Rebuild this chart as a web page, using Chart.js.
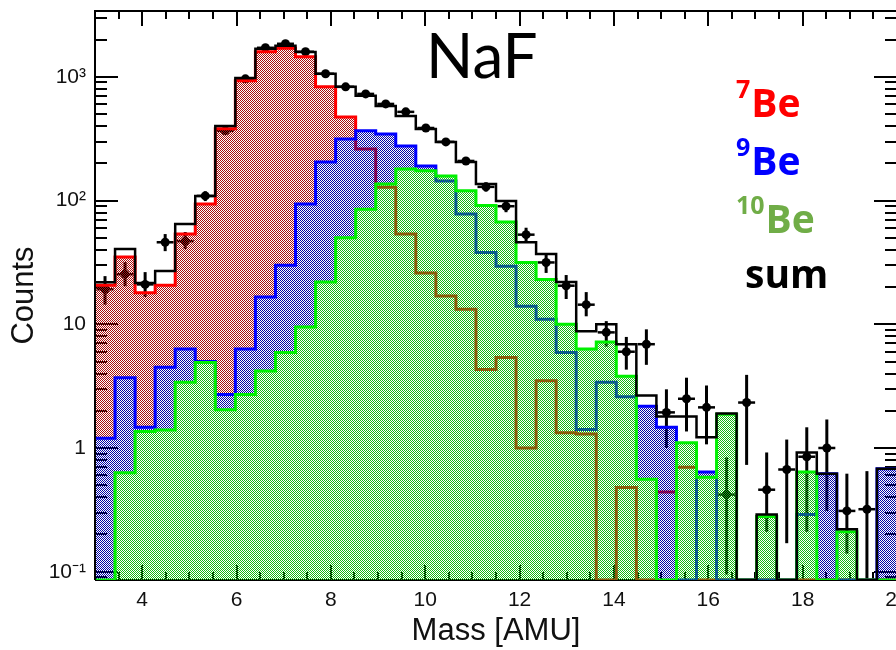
<!DOCTYPE html>
<html>
<head>
<meta charset="utf-8">
<script src="https://cdn.jsdelivr.net/npm/chart.js@4.4.1/dist/chart.umd.min.js"></script>
<style>
  html, body { margin: 0; padding: 0; background: #fff; overflow: hidden; }
  #wrap { width: 912px; height: 650px; position: relative; }
</style>
</head>
<body>
<div id="wrap"><canvas id="massChart"></canvas></div>
<script>
// NaF — masa reconstruida de Be (7Be / 9Be / 10Be + suma)
// ====================================

const X_MIN = 3, X_MAX = 20, N_BINS = 40;
const BIN_W = (X_MAX - X_MIN) / N_BINS;
const Y_MIN = 0.0857, Y_MAX = 3405;

// counts per bin (40 bins, 3 → 20 AMU)
const be7 = [20.7, 35, 18, 20.7, 53.6, 94, 380, 929, 1594, 1700,
  1450, 830, 474, 261, 128, 53.6, 26, 16.9, 13.2, 4.3,
  5.4, 1.0, 3.5, 1.33, 1.3, 0, 0.48, 0, 0.44, 0.7,
  0, 0, 0, 0, 0, 0, 0, 0, 0, 0];
const be9 = [1.2, 3.7, 1.47, 4.5, 6.3, 5.0, 2.7, 6.3, 16.6, 30,
  94, 205, 315, 366, 345, 276, 190, 144, 78, 38,
  29.5, 14, 11, 5.9, 1.41, 3.4, 2.6, 2.17, 1.47, 0,
  0.64, 0, 0, 0, 0, 0.29, 0.62, 0, 0, 0.68];
const be10 = [0, 0.63, 1.36, 1.4, 3.4, 4.9, 2.04, 2.7, 4.2, 5.9,
  9.5, 22, 50, 85, 136, 180, 174, 158, 120, 91,
  67, 31.6, 23, 10, 6.3, 7.2, 3.8, 0.56, 0, 1.1,
  0.58, 1.87, 0, 0.28, 0, 0.64, 0, 0.21, 0, 0];
const sumHist = [21.9, 40.5, 21.6, 27, 64.6, 109, 401, 980, 1690, 1780,
  1590, 1060, 830, 702, 582, 483, 379, 298, 205, 136,
  99, 46, 37, 22, 8.8, 10, 6.9, 2.66, 1.8, 1.8,
  1.22, 1.9, 0, 0.29, 0, 0.92, 0.62, 0.22, 0, 0.68];

// measured points with error bar ends
const dataCounts = [19.2, 25.4, 21, 46, 47, 109, 366, 963, 1717, 1850,
  1594, 1058, 830, 728, 604, 521, 386, 298, 209, 129,
  90, 53, 31.6, 20.5, 14.4, 8.6, 6.0, 6.9, 1.94, 2.5,
  2.13, 0.42, 2.33, 0.46, 0.67, 0.85, 1.0, 0.31, 0.32, null];
const dataErrUp = [24.5, 31.8, 26.4, 53.6, 55.7, 119, 385, 994, 1758, 1893,
  1634, 1091, 859, 755, 629, 544, 406, 315, 223, 140,
  99.5, 60.3, 37.2, 25, 18.2, 10.6, 7.9, 9.1, 2.98, 3.7,
  3.2, 0.84, 3.9, 0.92, 1.17, 1.47, 1.7, 0.62, 0.65, null];
const dataErrDown = [14.4, 20.3, 16.6, 39, 40.5, 99, 347, 932, 1676, 1807,
  1554, 1025, 801, 701, 579, 498, 366, 281, 195, 118,
  80.5, 45.7, 26, 16, 11.6, 6.6, 4.3, 4.7, 1.0, 1.36,
  1.07, 0.095, 0.73, 0.21, 0.17, 0.21, 0.31, 0.14, 0.085, null];
const X_ERR = 0.18;

const xTickVals = [4, 6, 8, 10, 12, 14, 16, 18, 20];
const yTickVals = [0.1, 1, 10, 100, 1000];
const yTickLabels = ['10⁻¹', '1', '10', '10²', '10³'];

const legendRows = [
  { sup: '7', text: 'Be', color: '#ff0000' },
  { sup: '9', text: 'Be', color: '#0000ff' },
  { sup: '10', text: 'Be', color: '#70ad47' },
  { sup: '', text: 'sum', color: '#000000' }
];

const canvas = document.getElementById('massChart');
const ctx0 = canvas.getContext('2d');

// ROOT-like 50% dot fill
function dotPattern(color) {
  const c = document.createElement('canvas');
  c.width = 2; c.height = 2;
  const p = c.getContext('2d');
  p.fillStyle = color;
  p.fillRect(0, 0, 1, 1);
  p.fillRect(1, 1, 1, 1);
  return ctx0.createPattern(c, 'repeat');
}

function histData(vals) {
  const pts = vals.map((v, i) => ({ x: X_MIN + i * BIN_W, y: v > 0 ? v : Y_MIN }));
  pts.push({ x: X_MAX, y: pts[pts.length - 1].y });
  return pts;
}

const pointData = [];
dataCounts.forEach((v, i) => {
  if (v == null) return;
  pointData.push({ x: X_MIN + (i + 0.5) * BIN_W, y: v, hi: dataErrUp[i], lo: dataErrDown[i] });
});

const PTS_INDEX = 4;

const axisTicks = {
  id: 'axisTicks',
  beforeDatasetsDraw(chart) {
    const { ctx, chartArea: a, scales: { x, y } } = chart;
    ctx.save();
    ctx.strokeStyle = '#000';
    ctx.lineWidth = 2;
    ctx.beginPath();
    for (let v = X_MIN + 0.5; v < X_MAX; v += 0.5) {
      const px = Math.round(x.getPixelForValue(v));
      const len = v % 2 === 0 ? 15 : 8;
      ctx.moveTo(px, a.top); ctx.lineTo(px, a.top + len);
      ctx.moveTo(px, a.bottom); ctx.lineTo(px, a.bottom - len);
    }
    for (let d = -2; d <= 3; d++) {
      for (let m = 1; m <= 9; m++) {
        const v = m * Math.pow(10, d);
        if (v < Y_MIN || v > Y_MAX) continue;
        const py = Math.round(y.getPixelForValue(v));
        const len = m === 1 ? 23 : 12;
        ctx.moveTo(a.left, py); ctx.lineTo(a.left + len, py);
        ctx.moveTo(a.right, py); ctx.lineTo(a.right - len, py);
      }
    }
    ctx.moveTo(a.left, a.bottom); ctx.lineTo(a.right, a.bottom);
    ctx.stroke();
    ctx.restore();
  },
  afterDatasetDraw(chart, args) {
    if (args.index !== PTS_INDEX) return;
    const { ctx, chartArea: a, scales: { x, y } } = chart;
    ctx.save();
    ctx.beginPath();
    ctx.rect(a.left, a.top, a.right - a.left, a.bottom - a.top);
    ctx.clip();
    ctx.strokeStyle = '#000';
    chart.data.datasets[PTS_INDEX].data.forEach(p => {
      const px = x.getPixelForValue(p.x);
      const py = y.getPixelForValue(p.y);
      ctx.lineWidth = 3;
      ctx.beginPath();
      ctx.moveTo(px, y.getPixelForValue(p.hi));
      ctx.lineTo(px, y.getPixelForValue(p.lo));
      ctx.stroke();
      ctx.lineWidth = 2.5;
      ctx.beginPath();
      ctx.moveTo(x.getPixelForValue(p.x - X_ERR), py);
      ctx.lineTo(x.getPixelForValue(p.x + X_ERR), py);
      ctx.stroke();
    });
    ctx.restore();
  },
  afterDatasetsDraw(chart) {
    const { ctx, chartArea: a } = chart;
    ctx.save();
    ctx.strokeStyle = '#000';
    ctx.lineWidth = 2;
    ctx.beginPath();
    ctx.moveTo(a.left, a.bottom);
    ctx.lineTo(a.left, a.top);
    ctx.lineTo(a.right, a.top);
    ctx.lineTo(a.right, a.bottom);
    ctx.stroke();
    ctx.restore();
  },
  afterDraw(chart) {
    const { ctx } = chart;
    ctx.save();
    ctx.fillStyle = '#000';
    ctx.textBaseline = 'alphabetic';
    ctx.font = '62px Lato, "Open Sans", sans-serif';
    ctx.fillText('NaF', 426, 78);

    const baselines = [117, 175, 233, 288];
    legendRows.forEach((r, i) => {
      ctx.fillStyle = r.color;
      let xx = 736;
      if (r.sup) {
        ctx.font = 'bold 25px "Open Sans", sans-serif';
        ctx.fillText(r.sup, xx, baselines[i] - 19);
        xx += ctx.measureText(r.sup).width + 1;
        ctx.font = 'bold 39px "Open Sans", sans-serif';
        ctx.fillText(r.text, xx, baselines[i]);
      } else {
        ctx.font = 'bold 39px "Open Sans", sans-serif';
        ctx.fillText(r.text, 745, baselines[i]);
      }
    });
    ctx.restore();
  }
};

const lineBase = { type: 'line', stepped: 'before', pointRadius: 0, tension: 0, fill: 'start' };

// fixed axis boxes so the plot frame sits where the original does
function fixBox(size) {
  return s => {
    if (s.isHorizontal()) s.height = size; else s.width = size;
    s.paddingTop = 0; s.paddingBottom = 0; s.paddingLeft = 0; s.paddingRight = 0;
  };
}

new Chart(canvas, {
  type: 'line',
  data: {
    datasets: [
      { ...lineBase, label: 'sum', data: histData(sumHist), borderColor: '#000', borderWidth: 2.5, fill: false, order: 1 },
      { ...lineBase, label: '10Be', data: histData(be10), borderColor: '#00f000', borderWidth: 3, backgroundColor: dotPattern('rgb(20,185,20)'), order: 2 },
      { ...lineBase, label: '9Be', data: histData(be9), borderColor: '#0000ff', borderWidth: 3, backgroundColor: dotPattern('rgb(5,5,165)'), order: 3 },
      { ...lineBase, label: '7Be', data: histData(be7), borderColor: '#ff0000', borderWidth: 3, backgroundColor: dotPattern('rgb(168,15,15)'), order: 4 },
      { type: 'line', label: 'data', data: pointData, showLine: false, pointRadius: 4.5, pointBackgroundColor: '#000', pointBorderWidth: 0, order: 5 }
    ]
  },
  options: {
    responsive: true,
    maintainAspectRatio: false,
    animation: false,
    events: [],
    layout: { padding: { top: 11, right: 15, left: 0, bottom: 0 } },
    plugins: { legend: { display: false }, tooltip: { enabled: false } },
    scales: {
      x: {
        type: 'linear',
        min: X_MIN, max: X_MAX,
        grid: { display: false, drawTicks: false },
        border: { display: false },
        afterBuildTicks: s => { s.ticks = xTickVals.map(v => ({ value: v })); },
        afterFit: fixBox(70),
        ticks: {
          autoSkip: false, maxRotation: 0, padding: 8, color: '#111',
          font: { family: '"Liberation Sans", Arial, sans-serif', size: 21 },
          callback: v => String(v)
        },
        title: {
          display: true, text: 'Mass [AMU]', color: '#111',
          font: { family: '"Liberation Sans", Arial, sans-serif', size: 31 },
          padding: { top: 0, bottom: 0 }
        }
      },
      y: {
        type: 'logarithmic',
        min: Y_MIN, max: Y_MAX,
        grid: { display: false, drawTicks: false },
        border: { display: false },
        afterBuildTicks: s => { s.ticks = yTickVals.map(v => ({ value: v })); },
        afterFit: fixBox(95),
        ticks: {
          autoSkip: false, padding: 9, color: '#111',
          font: { family: '"Liberation Sans", Arial, sans-serif', size: 21 },
          callback: (v, i) => yTickLabels[i]
        },
        title: {
          display: true, text: 'Counts', color: '#111',
          font: { family: '"Liberation Sans", Arial, sans-serif', size: 31 },
          padding: { top: 6, bottom: 0 }
        }
      }
    }
  },
  plugins: [axisTicks]
});
</script>
</body>
</html>
